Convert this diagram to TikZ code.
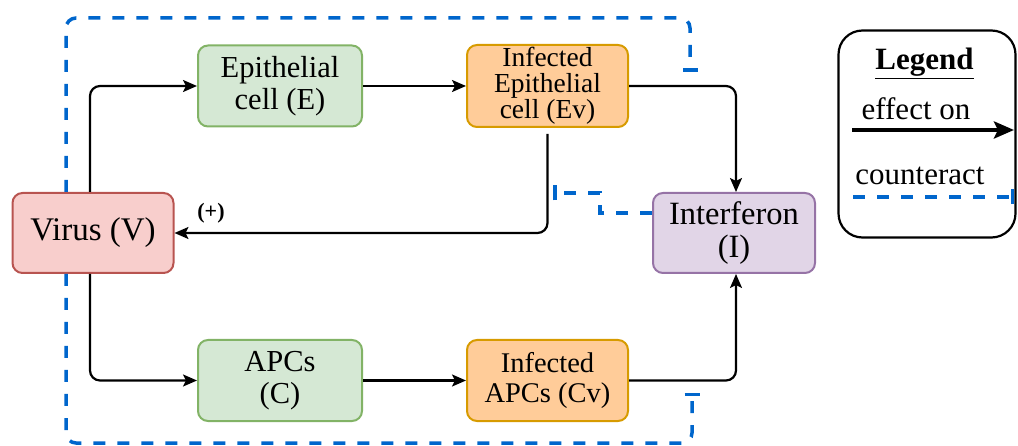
\documentclass[tikz,border=0pt]{standalone}
\usepackage{fontspec}
\setmainfont{Liberation Serif}
\usetikzlibrary{arrows.meta}
\definecolor{gfill}{HTML}{D5E8D4}
\definecolor{gdraw}{HTML}{82B366}
\definecolor{ofill}{HTML}{FFCC99}
\definecolor{odraw}{HTML}{D79B00}
\definecolor{rfill}{HTML}{F8CECC}
\definecolor{rdraw}{HTML}{B85450}
\definecolor{pfill}{HTML}{E1D5E7}
\definecolor{pdraw}{HTML}{9673A6}
\definecolor{cblue}{HTML}{0066CC}
\tikzset{
  cellbox/.style={draw, line width=2pt, rounded corners=10pt, align=center,
    minimum width=161pt, minimum height=81pt, inner sep=0pt},
  greenbox/.style={cellbox, fill=gfill, draw=gdraw, font=\fontsize{30.5}{32}\selectfont},
  orangebox/.style={cellbox, fill=ofill, draw=odraw},
  conn/.style={line width=2.2pt, rounded corners=10pt, -{Stealth[length=14pt, width=12pt, inset=3pt]}},
  counter/.style={draw=cblue, line width=3.5pt, dash pattern=on 12pt off 12pt, rounded corners=10pt,
    -{Bar[width=15pt, line width=3.5pt]}},
  lgtext/.style={anchor=base, font=\fontsize{31}{33}\selectfont, inner sep=0pt}
}
\begin{document}
\begin{tikzpicture}[x=1pt, y=-1pt]
\useasboundingbox (0,0) rectangle (1018,446);
% nodes
\node[cellbox, fill=rfill, draw=rdraw, font=\fontsize{33}{34}\selectfont, minimum height=80pt] (V) at (93,233) {Virus (V)};
\node[greenbox, minimum width=164pt] (E) at (280,86) {Epithelial\\cell (E)};
\node[orangebox, font=\fontsize{27.5}{26}\selectfont, minimum height=82pt] (Ev) at (547.5,86) {Infected\\Epithelial\\cell (Ev)};
\node[cellbox, fill=pfill, draw=pdraw, font=\fontsize{32.5}{33.5}\selectfont, minimum width=162pt, minimum height=80pt] (I) at (734,233) {Interferon\\(I)};
\node[greenbox, minimum width=164pt] (C) at (280,380.5) {APCs\\(C)};
\node[orangebox, font=\fontsize{28.5}{30.5}\selectfont] (Cv) at (547.5,380.5) {Infected\\APCs (Cv)};
% effect connectors
\draw[conn] ([xshift=-3pt]V.north) |- (E.west);
\draw[conn] ([xshift=-3pt]V.south) |- (C.west);
\draw[conn] (E.east) -- (Ev.west);
\draw[conn] (C.east) -- (Cv.west);
\draw[conn] (Ev.east) -| ([xshift=2pt]I.north);
\draw[conn] (Cv.east) -| ([xshift=2pt]I.south);
\draw[conn, shorten <=6pt] (Ev.south) |- (V.east);
\node[font=\fontsize{22}{24}\selectfont\bfseries, inner sep=0pt] (plus) at (211,213) {(+)};
% counteract connectors
\coordinate (t1) at (66,18);
\coordinate (t2) at (690,18);
\coordinate (tEnd) at (690,72);
\draw[counter] ([xshift=-27pt]V.north) -- (t1) -- (t2) -- (tEnd);
\coordinate (b1) at (66,443);
\coordinate (b2) at (692,443);
\coordinate (bEnd) at (692,393);
\draw[counter] ([xshift=-27pt]V.south) -- (b1) -- (b2) -- (bEnd);
\coordinate (i1) at (600,213);
\coordinate (i2) at (600,193);
\coordinate (iEnd) at (553,193);
\draw[counter, rounded corners=0pt] ([yshift=20pt]I.west) -- (i1) -- (i2) -- (iEnd);
% legend
\node[draw, line width=2.2pt, rounded corners=24pt, minimum width=177pt, minimum height=207pt, inner sep=0pt] (L) at (927,134) {};
\node[lgtext] (Lt) at (924.5,70) {\underline{\textbf{Legend}}};
\node[lgtext] (Le) at (916,120) {effect on};
\node[lgtext] (Lc) at (920,185) {counteract};
\coordinate (la1) at (852,130);
\coordinate (la2) at (1014,130);
\draw[line width=4.5pt, -{Stealth[length=20pt, width=17pt, inset=4pt]}] (la1) -- (la2);
\coordinate (lc1) at (853,197);
\coordinate (lc2) at (1014,197);
\draw[counter] (lc1) -- (lc2);
\end{tikzpicture}
\end{document}
